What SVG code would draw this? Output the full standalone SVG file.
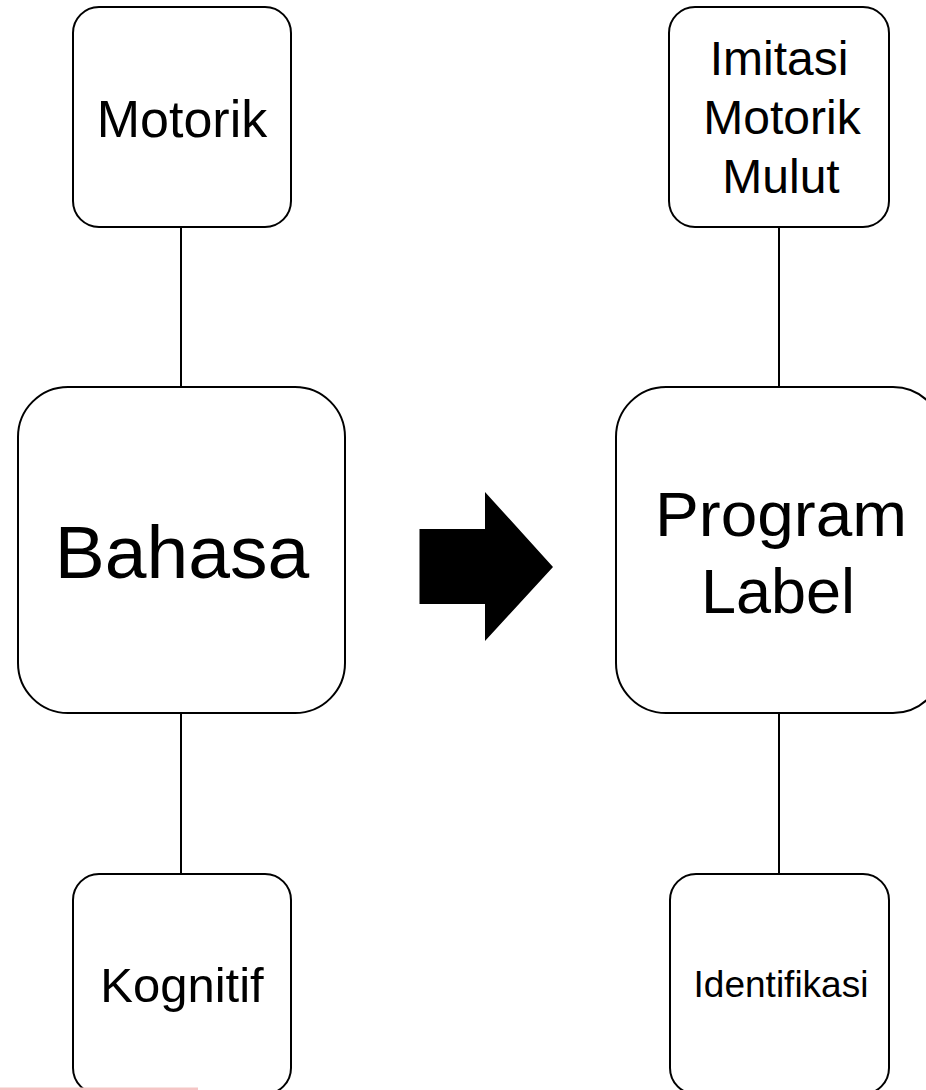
<svg xmlns="http://www.w3.org/2000/svg" width="926" height="1090" viewBox="0 0 926 1090">
  <style>
    .box { fill: #ffffff; stroke: #000000; stroke-width: 2; }
    .link { stroke: #000000; stroke-width: 2; fill: none; }
    .lbl { font-family: "Liberation Sans", Arial, Helvetica, sans-serif; fill: #000000; text-anchor: middle; }
  </style>
  <rect x="0" y="0" width="926" height="1090" fill="#ffffff"/>

  <!-- connectors -->
  <g id="connectors">
    <line class="link" x1="181" y1="227" x2="181" y2="387"/>
    <line class="link" x1="181" y1="713" x2="181" y2="874"/>
    <line class="link" x1="779" y1="227" x2="779" y2="387"/>
    <line class="link" x1="779" y1="713" x2="779" y2="874"/>
  </g>

  <!-- left column -->
  <g id="motorik">
    <rect class="box" x="73" y="7" width="218" height="220" rx="26" ry="26"/>
    <text class="lbl" x="182" y="137" font-size="52">Motorik</text>
  </g>
  <g id="bahasa">
    <rect class="box" x="18" y="387" width="327" height="326" rx="50" ry="50"/>
    <text class="lbl" x="182" y="578" font-size="75">Bahasa</text>
  </g>
  <g id="kognitif">
    <rect class="box" x="73" y="874" width="218" height="220" rx="26" ry="26"/>
    <text class="lbl" x="182" y="1002" font-size="49">Kognitif</text>
  </g>

  <!-- block arrow between the columns -->
  <g id="arrow">
    <polygon points="419.5,529 485,529 485,492 553,567 485,641 485,604 419.5,604" fill="#000000"/>
  </g>

  <!-- right column -->
  <g id="imitasi">
    <rect class="box" x="669" y="7" width="220" height="220" rx="26" ry="26"/>
    <text class="lbl" x="779" y="75" font-size="48">Imitasi</text>
    <text class="lbl" x="782" y="134" font-size="48">Motorik</text>
    <text class="lbl" x="781" y="193" font-size="48">Mulut</text>
  </g>
  <g id="program-label">
    <rect class="box" x="616" y="387" width="327" height="326" rx="50" ry="50"/>
    <text class="lbl" x="781" y="536" font-size="63" textLength="252" lengthAdjust="spacingAndGlyphs">Program</text>
    <text class="lbl" x="778" y="613" font-size="63">Label</text>
  </g>
  <g id="identifikasi">
    <rect class="box" x="670" y="874" width="219" height="220" rx="26" ry="26"/>
    <text class="lbl" x="781" y="997" font-size="37">Identifikasi</text>
  </g>

  <!-- pink strip along the lower edge -->
  <rect x="0" y="1087.5" width="198" height="2.5" fill="#f5c6c6"/>
</svg>
